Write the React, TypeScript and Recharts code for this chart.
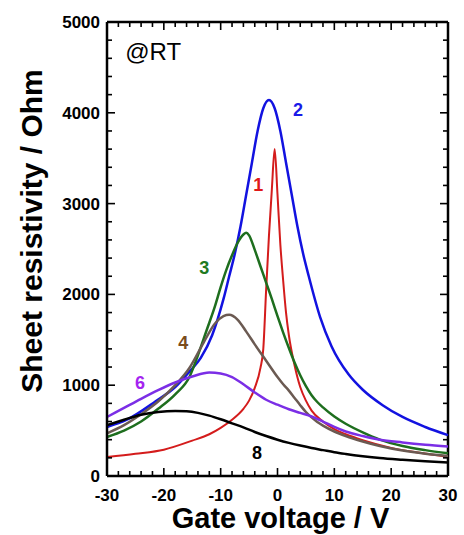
import { LineChart, Line, XAxis, YAxis, ReferenceDot, ReferenceLine } from "recharts";

const FONT = "'Liberation Sans', Arial, sans-serif";

// gate voltage (V) / sheet resistivity (Ohm)
const gate1 = [-30, -25, -20, -15, -12, -10, -8, -6, -5, -4, -3, -2.5, -2, -1.5, -1, -0.5, 0, 0.5, 1, 1.5, 2, 3, 4, 5, 6, 8, 10, 12, 15, 20, 25, 30];
const rho1 = [210, 245, 290, 390, 460, 530, 620, 740, 830, 970, 1190, 1400, 2050, 2650, 3150, 3600, 3100, 2550, 2150, 1800, 1550, 1220, 980, 830, 720, 600, 515, 460, 395, 310, 255, 210];

const gate2 = [-30, -26.5, -21.5, -18, -15.5, -13.5, -11.5, -9.5, -8.5, -7.5, -6.5, -5.5, -4.5, -3.5, -2.5, -1.5, -0.5, 0.5, 1.5, 2.5, 3.5, 4.5, 5.5, 7.5, 9.5, 12.5, 15, 18.5, 22, 26, 30];
const rho2 = [540, 620, 820, 980, 1150, 1300, 1550, 1950, 2200, 2450, 2750, 3100, 3450, 3800, 4050, 4140, 4050, 3800, 3450, 3100, 2750, 2450, 2200, 1750, 1430, 1120, 950, 780, 650, 540, 450];

const gate3 = [-30, -27, -24, -21, -18, -15.5, -14, -12.5, -11, -10, -9, -8, -7, -6, -5.5, -5, -4, -3, -2, -1, 0, 1, 2, 3, 4, 5, 6, 7, 8, 10, 12, 15, 18, 22, 26, 30];
const rho3 = [430, 500, 600, 740, 900, 1090, 1330, 1600, 1870, 2080, 2270, 2430, 2570, 2660, 2680, 2650, 2490, 2310, 2130, 1950, 1760, 1580, 1410, 1250, 1110, 990, 890, 815, 755, 655, 575, 480, 400, 330, 285, 250];

const gate4 = [-30, -27, -24, -21, -18, -15.5, -13, -11, -9.5, -8.5, -7, -5.5, -4, -2, 0, 1, 2, 3, 4, 5, 6, 7, 8, 10, 12, 15, 18, 22, 26, 30];
const rho4 = [470, 560, 680, 820, 1000, 1190, 1470, 1680, 1760, 1775, 1720, 1590, 1450, 1270, 1090, 1010, 940, 860, 780, 705, 645, 595, 555, 490, 440, 380, 330, 280, 245, 220];

const gate6 = [-30, -27, -24, -21, -18, -15, -12, -10, -8, -6, -4, -2, 0, 2, 4, 6, 8, 10, 12, 15, 18, 22, 26, 30];
const rho6 = [650, 750, 850, 945, 1030, 1095, 1140, 1130, 1090, 1010, 920, 840, 785, 735, 695, 655, 600, 540, 490, 440, 400, 370, 345, 325];

const gate8 = [-30, -27, -24, -21, -18, -16, -14, -12, -10, -8, -6, -4, -2, 0, 2, 4, 6, 8, 10, 12, 15, 18, 22, 26, 30];
const rho8 = [560, 620, 675, 705, 716, 712, 695, 665, 625, 580, 535, 485, 440, 400, 365, 335, 308, 285, 262, 243, 218, 197, 178, 162, 148];

const xTicks = [-30, -28, -26, -24, -22, -20, -18, -16, -14, -12, -10, -8, -6, -4, -2, 0, 2, 4, 6, 8, 10, 12, 14, 16, 18, 20, 22, 24, 26, 28, 30];
const yTicks = [0, 200, 400, 600, 800, 1000, 1200, 1400, 1600, 1800, 2000, 2200, 2400, 2600, 2800, 3000, 3200, 3400, 3600, 3800, 4000, 4200, 4400, 4600, 4800, 5000];

const curveNames = ["1", "2", "3", "4", "6", "8"];
const curveColors = ["#d41c1c", "#1212e0", "#1e6e1e", "#6b5a52", "#7b2ee6", "#000000"];
const labelColors = ["#e01818", "#1a1ae8", "#1f7a1f", "#7a4c1c", "#a424f0", "#000000"];
const labelGate = [-3.4, 3.6, -12.9, -16.6, -24.2, -3.6];
const labelRho = [3205, 4030, 2300, 1465, 1024, 253];

const toPoints = (gate: number[], rho: number[]) => gate.map((v, i) => ({ v, r: rho[i] }));
const curves = [
  toPoints(gate1, rho1),
  toPoints(gate2, rho2),
  toPoints(gate3, rho3),
  toPoints(gate4, rho4),
  toPoints(gate6, rho6),
  toPoints(gate8, rho8),
];
const widths = [2, 2.5, 2.5, 2.5, 2.5, 2.5];

const X_MIN = -30;
const X_MAX = 30;
const Y_MIN = 0;
const Y_MAX = 5000;

// chart box
const W = 464;
const H = 535;
const M = { top: 22, right: 16, bottom: 0, left: 0 };
const X_AXIS_H = 59;
const Y_AXIS_W = 107;
const PLOT_L = M.left + Y_AXIS_W;
const PLOT_T = M.top;
const PLOT_W = W - M.left - M.right - Y_AXIS_W;
const PLOT_H = H - M.top - M.bottom - X_AXIS_H;

// inward frame ticks, laid over the chart on the same plot box
const tx = (t: number) => PLOT_L + ((t - X_MIN) / (X_MAX - X_MIN)) * PLOT_W;
const ty = (t: number) => PLOT_T + PLOT_H - ((t - Y_MIN) / (Y_MAX - Y_MIN)) * PLOT_H;
const xLen = (t: number) => (Math.abs(t) % 10 === 0 ? 8 : 5);
const yLen = (t: number) => (t % 1000 === 0 ? 8 : 5);

const tickStyle = { fontSize: 17, fontWeight: "bold" as const, fontFamily: FONT, fill: "#000" };

function XLabel(props: any) {
  const { x, y, payload } = props;
  if (Math.abs(payload.value) % 10 !== 0) return <g />;
  return (
    <text x={x} y={y + 25} textAnchor="middle" {...tickStyle}>
      {payload.value}
    </text>
  );
}

function YLabel(props: any) {
  const { x, y, payload } = props;
  if (payload.value % 1000 !== 0) return <g />;
  return (
    <text x={x - 7} y={y} dy="0.35em" textAnchor="end" {...tickStyle}>
      {payload.value}
    </text>
  );
}

function FrameTicks() {
  const bottom = PLOT_T + PLOT_H;
  const right = PLOT_L + PLOT_W;
  return (
    <svg
      width={W}
      height={H}
      style={{ position: "absolute", left: 0, top: 0, pointerEvents: "none" }}
    >
      <g stroke="#000" strokeWidth={1.6}>
        {xTicks.map((t) => (
          <line key={"b" + t} x1={tx(t)} x2={tx(t)} y1={bottom} y2={bottom - xLen(t)} />
        ))}
        {xTicks.map((t) => (
          <line key={"t" + t} x1={tx(t)} x2={tx(t)} y1={PLOT_T} y2={PLOT_T + xLen(t)} />
        ))}
        {yTicks.map((t) => (
          <line key={"l" + t} x1={PLOT_L} x2={PLOT_L + yLen(t)} y1={ty(t)} y2={ty(t)} />
        ))}
        {yTicks.map((t) => (
          <line key={"r" + t} x1={right} x2={right - yLen(t)} y1={ty(t)} y2={ty(t)} />
        ))}
      </g>
    </svg>
  );
}

export default function App() {
  return (
    <div style={{ position: "absolute", left: 0, top: 0, width: W, height: H, background: "#fff" }}>
      <LineChart width={W} height={H} margin={M}>
        <XAxis
          dataKey="v"
          type="number"
          domain={[X_MIN, X_MAX]}
          ticks={xTicks}
          interval={0}
          height={X_AXIS_H}
          tickSize={0}
          tickMargin={0}
          tickLine={false}
          axisLine={{ stroke: "#000", strokeWidth: 2.5 }}
          tick={XLabel}
          label={{
            content: (p: any) => (
              <text
                x={p.viewBox.x + p.viewBox.width / 2 + 3}
                y={528}
                textAnchor="middle"
                fontSize={29}
                fontWeight="bold"
                fontFamily={FONT}
                fill="#000"
              >
                Gate voltage / V
              </text>
            ),
          }}
        />
        <YAxis
          type="number"
          domain={[Y_MIN, Y_MAX]}
          ticks={yTicks}
          interval={0}
          width={Y_AXIS_W}
          tickSize={0}
          tickMargin={0}
          tickLine={false}
          axisLine={{ stroke: "#000", strokeWidth: 2.5 }}
          tick={YLabel}
          label={{
            content: () => {
              const cx = 42;
              const cy = 231;
              return (
                <text
                  x={cx}
                  y={cy}
                  transform={`rotate(-90, ${cx}, ${cy})`}
                  textAnchor="middle"
                  fontSize={30}
                  fontWeight="bold"
                  fontFamily={FONT}
                  fill="#000"
                >
                  Sheet resistivity / Ohm
                </text>
              );
            },
          }}
        />
        <ReferenceLine y={Y_MAX} stroke="#000" strokeWidth={2.5} ifOverflow="visible" />
        <ReferenceLine x={X_MAX} stroke="#000" strokeWidth={2.5} ifOverflow="visible" />
        {curves.map((pts, i) => (
          <Line
            key={curveNames[i]}
            data={pts}
            dataKey="r"
            type="monotone"
            stroke={curveColors[i]}
            strokeWidth={widths[i]}
            dot={false}
            activeDot={false}
            isAnimationActive={false}
          />
        ))}
        {curveNames.map((name, i) => (
          <ReferenceDot
            key={"lab" + name}
            x={labelGate[i]}
            y={labelRho[i]}
            r={0}
            fill="none"
            stroke="none"
            label={{
              value: name,
              position: "center",
              fill: labelColors[i],
              fontSize: 18,
              fontWeight: "bold",
              fontFamily: FONT,
            }}
          />
        ))}
        <ReferenceDot
          x={-26.8}
          y={4680}
          r={0}
          fill="none"
          stroke="none"
          label={{ value: "@RT", position: "right", offset: 0, fill: "#000", fontSize: 24, fontFamily: FONT }}
        />
      </LineChart>
      <FrameTicks />
    </div>
  );
}
